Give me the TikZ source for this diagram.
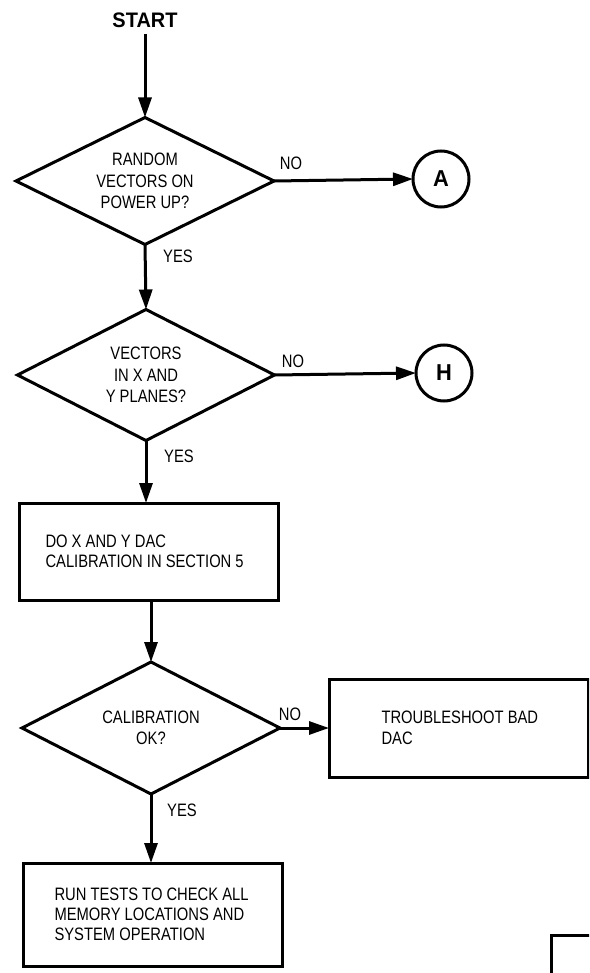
\documentclass[tikz,border=0pt]{standalone}
\usepackage{fontspec}
\usetikzlibrary{shapes.geometric,arrows.meta}
\newfontfamily\cnd[FakeStretch=0.82]{Liberation Sans}
\newfontfamily\bld[FakeStretch=0.95]{Liberation Sans Bold}
\begin{document}
\begin{tikzpicture}[x=1pt,y=-1pt,
  line width=3pt,
  txt/.style={font=\cnd\fontsize{18}{20.5}\selectfont, inner sep=0pt, align=left},
  dec/.style={diamond, draw, inner sep=0pt, outer sep=0pt, aspect=2,
    font=\cnd\fontsize{18}{21.5}\selectfont, align=center},
  box/.style={rectangle, draw, inner sep=0pt, outer sep=0pt},
  conn/.style={circle, draw, minimum size=56pt, inner sep=0pt, outer sep=0pt,
    font=\bld\fontsize{23}{23}\selectfont},
  lbl/.style={font=\cnd\fontsize{18}{18}\selectfont, inner sep=0pt},
  arr/.style={-{Triangle[length=20pt,width=13pt]}, line width=3pt}
]
\useasboundingbox (0,0) rectangle (589,973);
\clip (0,0) rectangle (589,973);

\node[font=\bld\fontsize{21}{21}\selectfont, inner xsep=0pt, inner ysep=5pt] (start) at (145,20) {START};

\node[dec, minimum width=258pt, minimum height=127pt] (d1) at (145,181)
  {RANDOM\\VECTORS ON\\POWER UP?};
\node[conn] (ca) at (441,179) {A};

\node[dec, minimum width=257pt, minimum height=131pt] (d2) at (146,375)
  {VECTORS\\IN X AND\\Y PLANES?};
\node[conn] (ch) at (444,373) {H};

\node[box, minimum width=259pt, minimum height=97pt] (r1) at (148.5,551.5) {};
\node[txt, anchor=west] (t1) at ([xshift=25pt]r1.west) {DO X AND Y DAC\\CALIBRATION IN SECTION 5};

\node[dec, minimum width=258pt, minimum height=132pt] (d3) at (151,728)
  {CALIBRATION\\OK?};

\node[box, minimum width=259pt, minimum height=98pt] (r2) at (458.5,728) {};
\node[txt, anchor=west] (t2) at ([xshift=51pt]r2.west) {TROUBLESHOOT BAD\\DAC};

\node[box, minimum width=259pt, minimum height=103pt] (r3) at (152.5,914.5) {};
\node[txt, anchor=west, font=\cnd\fontsize{18}{20}\selectfont] (t3) at ([xshift=30pt]r3.west)
  {RUN TESTS TO CHECK ALL\\MEMORY LOCATIONS AND\\SYSTEM OPERATION};

\node[box, minimum width=100pt, minimum height=100pt, anchor=north west] (r4) at (551,935) {};

% labels
\node[lbl] (no1) at (291,163) {NO};
\node[lbl] (yes1) at (178,256) {YES};
\node[lbl] (no2) at (293,361) {NO};
\node[lbl] (yes2) at (179,456) {YES};
\node[lbl] (no3) at (290,714) {NO};
\node[lbl] (yes3) at (182,810) {YES};

% connectors
\draw[arr] (start.south -| d1.north) -- (d1.north);
\draw[arr] (d1.east) -- (ca.west);
\draw[arr] (d1.south) -- (d2.north);
\draw[arr] (d2.east) -- (ch.west);
\draw[arr] (d2.south) -- (d2.south |- r1.north);
\draw[arr] (d3.north |- r1.south) -- (d3.north);
\draw[arr] (d3.east) -- (r2.west);
\draw[arr] (d3.south) -- (d3.south |- r3.north);
\end{tikzpicture}
\end{document}
